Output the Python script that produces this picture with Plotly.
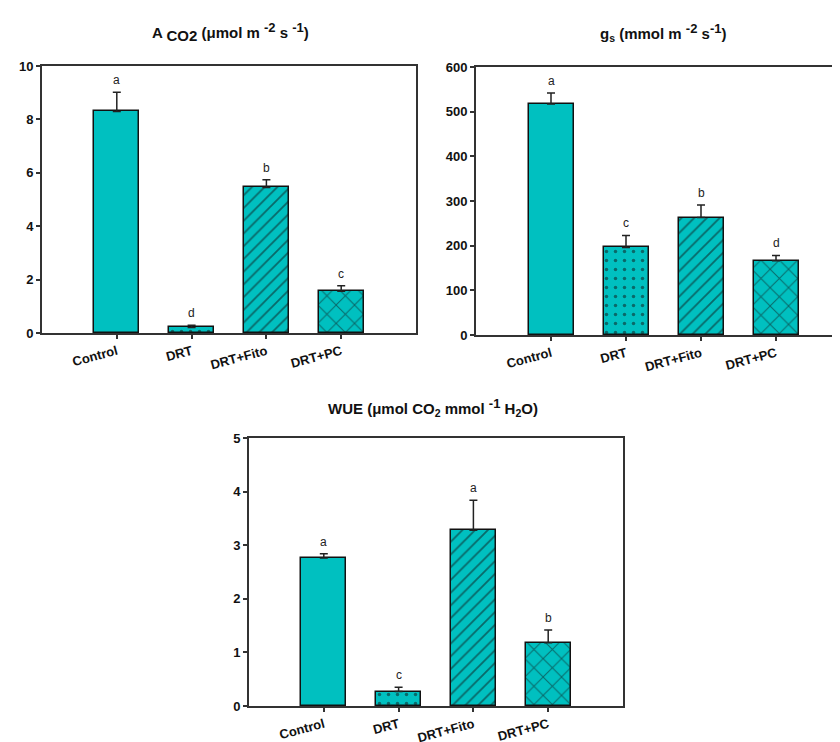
import plotly.graph_objects as go

categories = ["Control", "DRT", "DRT+Fito", "DRT+PC"]
patterns = ["", ".", "/", "x"]

aco2_vals = [8.3, 0.21, 5.45, 1.56]
aco2_err = [0.72, 0.08, 0.29, 0.21]
aco2_letters = ["a", "d", "b", "c"]

gs_vals = [517, 196, 263, 166]
gs_err = [25, 27, 28, 12]
gs_letters = ["a", "c", "b", "d"]

wue_vals = [2.76, 0.27, 3.28, 1.18]
wue_err = [0.08, 0.08, 0.56, 0.24]
wue_letters = ["a", "c", "a", "b"]

TEAL = "#00C0C0"
FONT = "Liberation Sans, Arial, sans-serif"
W, H = 840, 742
OFF = 8  # page body margin

fig = go.Figure()

panels = [
    (aco2_vals, aco2_err, aco2_letters, "x", "y"),
    (gs_vals, gs_err, gs_letters, "x2", "y2"),
    (wue_vals, wue_err, wue_letters, "x3", "y3"),
]

xpos = list(range(len(categories)))
pattern_sizes = [8, 9, 9, 13]
pattern_sol = [0.2, 0.12, 0.2, 0.15]

for vals, err, letters, xa, ya in panels:
    fig.add_trace(go.Bar(
        x=xpos, y=vals, xaxis=xa, yaxis=ya, width=0.6,
        marker=dict(color=TEAL, line=dict(color="#111", width=1.5),
                    pattern=dict(shape=patterns, fgcolor="#111", bgcolor=TEAL,
                                 size=pattern_sizes, solidity=pattern_sol)),
        error_y=dict(type="data", symmetric=False, array=err,
                     arrayminus=[0] * len(err), color="#222",
                     thickness=1.5, width=4),
        showlegend=False, hoverinfo="skip",
    ))
    for i, (v, e, l) in enumerate(zip(vals, err, letters)):
        fig.add_annotation(x=i, y=v + e, xref=xa, yref=ya, text=l,
                           showarrow=False, yanchor="bottom", yshift=3,
                           font=dict(family=FONT, size=12, color="#222"))

def px_dom_x(a, b):
    return [(a - OFF) / W, min((b - OFF) / W, 1.0)]

def px_dom_y(top, bottom):
    return [1 - (bottom - OFF) / H, 1 - (top - OFF) / H]

axis_common = dict(showline=True, linecolor="#333", linewidth=2,
                   ticks="outside", ticklen=4, tickwidth=1.5, tickcolor="#333",
                   showgrid=False, zeroline=False, automargin=False,
                   tickfont=dict(family=FONT, size=13, color="#111", weight="bold"))

xcommon = dict(axis_common, tickvals=xpos, ticktext=categories,
               tickangle=-15, mirror=True)

p2_left = 476
p2_units = (W - (p2_left - OFF)) / 75.0

fig.update_layout(
    width=W, height=H, margin=dict(l=0, r=0, t=0, b=0, autoexpand=False),
    paper_bgcolor="white", plot_bgcolor="white", bargap=0,
    xaxis=dict(xcommon, domain=px_dom_x(42, 416), range=[-1, 4], anchor="y"),
    yaxis=dict(axis_common, domain=px_dom_y(66, 333), range=[0, 10], dtick=2,
               mirror=True, anchor="x"),
    xaxis2=dict(xcommon, domain=[(p2_left - OFF) / W, 1.0], range=[-1, p2_units - 1],
                anchor="y2"),
    yaxis2=dict(axis_common, domain=px_dom_y(67, 335), range=[0, 600], dtick=100,
                mirror=False, anchor="x2"),
    xaxis3=dict(xcommon, domain=px_dom_x(249, 623), range=[-1, 4], anchor="y3"),
    yaxis3=dict(axis_common, domain=px_dom_y(438, 706), range=[0, 5], dtick=1,
                mirror=True, anchor="x3"),
)

S = "<span style='font-size:13px'>{}</span>"
titles = [
    ("A <sub><span style='font-size:15px'>CO2</span></sub> (μmol m " + "<sup>" + S.format("-2") + "</sup> s " + "<sup>" + S.format("-1") + "</sup>)", 230, 32),
    ("g<sub>s</sub> (mmol m " + "<sup>" + S.format("-2") + "</sup> s" + "<sup>" + S.format("-1") + "</sup>)", 663, 32),
    ("WUE (μmol CO<sub>2</sub> mmol " + "<sup>" + S.format("-1") + "</sup> H<sub>2</sub>O)", 433, 408),
]
for txt, xpx, ypx in titles:
    fig.add_annotation(x=(xpx - OFF) / W, y=1 - (ypx - OFF) / H, xref="paper", yref="paper",
                       text="<b>" + txt + "</b>", showarrow=False,
                       xanchor="center", yanchor="middle",
                       font=dict(family=FONT, size=15, color="#111"))

fig.write_html("out.html")
